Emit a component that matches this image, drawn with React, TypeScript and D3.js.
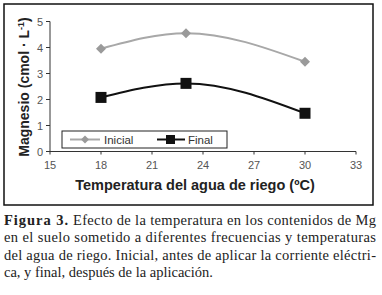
import React from "react";
import * as d3 from "d3";

const temps = [18, 23, 30];
const inicial = [3.95, 4.55, 3.45];
const final = [2.08, 2.62, 1.47];
const xTicks = [15, 18, 21, 24, 27, 30, 33];
const yTicks = [0, 1, 2, 3, 4, 5];
const captionLines = [
  "Efecto de la temperatura en los contenidos de Mg",
  "en el suelo sometido a diferentes frecuencias y temperaturas",
  "del agua de riego. Inicial, antes de aplicar la corriente eléctri-",
  "ca, y final, después de la aplicación.",
];

export default function App() {
  const W = 382, H = 295;
  const x = d3.scaleLinear().domain([15, 33]).range([50, 356]);
  const y = d3.scaleLinear().domain([0, 5]).range([151.5, 21.5]);
  const line = d3
    .line<number>()
    .x((_, i) => x(temps[i]))
    .y((d) => y(d))
    .curve(d3.curveMonotoneX);
  const sans = "'Liberation Sans', Arial, sans-serif";
  const serif = "'Liberation Serif', 'Times New Roman', serif";
  const grayLine = "#a8a8a8";
  const grayMark = "#9a9a9a";
  const diamond = (cx: number, cy: number, r: number) =>
    `M${cx},${cy - r}L${cx + r},${cy}L${cx},${cy + r}L${cx - r},${cy}Z`;
  return (
    <svg
      width={W}
      height={H}
      style={{ position: "absolute", left: 0, top: 0, background: "#fff" }}
    >
      <rect x={0} y={0} width={W} height={H} fill="#fff" />
      <rect x={4} y={4} width={369} height={201} fill="none" stroke="#111" strokeWidth={1.5} />
      {/* axes */}
      <line x1={50} x2={50} y1={y(5)} y2={y(0)} stroke="#333" strokeWidth={1} />
      <line x1={50} x2={356} y1={y(0)} y2={y(0)} stroke="#333" strokeWidth={1} />
      {yTicks.map((t) => (
        <g key={"y" + t}>
          <line x1={46} x2={50} y1={y(t)} y2={y(t)} stroke="#333" />
          <text x={43} y={y(t) + 4} textAnchor="end" fontFamily={sans} fontSize={11} fill="#555">
            {t}
          </text>
        </g>
      ))}
      {xTicks.map((t) => (
        <g key={"x" + t}>
          <line x1={x(t)} x2={x(t)} y1={y(0)} y2={y(0) + 3} stroke="#333" />
          <text x={x(t)} y={169} textAnchor="middle" fontFamily={sans} fontSize={11} fill="#555">
            {t}
          </text>
        </g>
      ))}
      <text x={195} y={190} textAnchor="middle" fontFamily={sans} fontWeight="bold" fontSize={14.5} fill="#222">
        Temperatura del agua de riego (ºC)
      </text>
      <text
        transform="translate(29,87) rotate(-90)"
        textAnchor="middle"
        fontFamily={sans}
        fontWeight="bold"
        fontSize={14}
        fill="#222"
      >
        Magnesio (cmol · L
        <tspan fontSize={9} dy={-5}>-1</tspan>
        <tspan dy={5}>)</tspan>
      </text>
      {/* series */}
      <path d={line(inicial) || ""} fill="none" stroke={grayLine} strokeWidth={2} />
      {inicial.map((v, i) => (
        <path key={"i" + i} d={diamond(x(temps[i]), y(v), 5)} fill={grayMark} />
      ))}
      <path d={line(final) || ""} fill="none" stroke="#111" strokeWidth={2} />
      {final.map((v, i) => (
        <rect key={"f" + i} x={x(temps[i]) - 5.5} y={y(v) - 5.5} width={11} height={11} fill="#111" />
      ))}
      {/* legend */}
      <rect x={62} y={131} width={165} height={17} fill="#fff" stroke="#222" strokeWidth={1} />
      <line x1={70} x2={100} y1={139.5} y2={139.5} stroke={grayLine} strokeWidth={2} />
      <path d={diamond(85, 139.5, 4)} fill={grayMark} />
      <text x={104} y={144} fontFamily={sans} fontSize={11.5} fill="#333">Inicial</text>
      <line x1={157} x2={185} y1={139.5} y2={139.5} stroke="#111" strokeWidth={2} />
      <rect x={166} y={135} width={9} height={9} fill="#111" />
      <text x={188} y={144} fontFamily={sans} fontSize={11.5} fill="#333">Final</text>
      {/* caption */}
      <text x={4} y={225} fontFamily={serif} fontSize={14.5} fontWeight="bold" fill="#222" textLength={64} lengthAdjust="spacing">
        Figura 3.
      </text>
      {captionLines.map((l, i) => (
        <text
          key={"c" + i}
          x={i === 0 ? 73 : 4}
          y={225 + i * 17.3}
          fontFamily={serif}
          fontSize={14.5}
          fill="#222"
          textLength={i < 3 ? (i === 0 ? 303 : 372) : undefined}
          lengthAdjust="spacing"
        >
          {l}
        </text>
      ))}
    </svg>
  );
}
